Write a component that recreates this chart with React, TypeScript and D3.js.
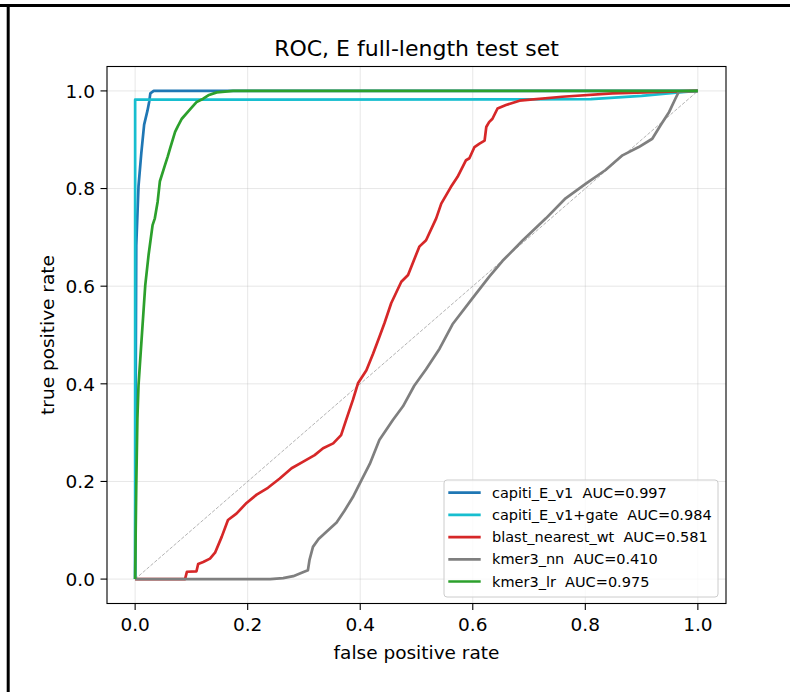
import React from "react";
import * as d3 from "d3";

type Pt = [number, number];

const title = "ROC, E full-length test set";
const xLabel = "false positive rate";
const yLabel = "true positive rate";
const xTicks = [0, 0.2, 0.4, 0.6, 0.8, 1.0];
const yTicks = [0, 0.2, 0.4, 0.6, 0.8, 1.0];

const seriesNames = [
  "capiti_E_v1  AUC=0.997",
  "capiti_E_v1+gate  AUC=0.984",
  "blast_nearest_wt  AUC=0.581",
  "kmer3_nn  AUC=0.410",
  "kmer3_lr  AUC=0.975",
];
const seriesColors = ["#1f77b4", "#17becf", "#d62728", "#7f7f7f", "#2ca02c"];

const capitiE: Pt[] = [
  [0, 0], [0.001, 0.4], [0.002, 0.684], [0.006, 0.805], [0.011, 0.873], [0.016, 0.931],
  [0.022, 0.96], [0.025, 0.978], [0.027, 0.995], [0.033, 1], [1, 1],
];
const capitiGate: Pt[] = [
  [0, 0], [0, 0.982], [0.81, 0.983], [0.9, 0.99], [0.966, 0.997], [1, 1],
];
const blast: Pt[] = [
  [0, 0], [0.0887, 0], [0.092, 0.015], [0.109, 0.016], [0.112, 0.031], [0.121, 0.035],
  [0.133, 0.042], [0.142, 0.054], [0.154, 0.087], [0.165, 0.121], [0.18, 0.134],
  [0.198, 0.156], [0.216, 0.173], [0.236, 0.187], [0.257, 0.206], [0.278, 0.227],
  [0.298, 0.24], [0.319, 0.254], [0.334, 0.268], [0.352, 0.278], [0.366, 0.295],
  [0.375, 0.326], [0.387, 0.367], [0.396, 0.401], [0.411, 0.428], [0.423, 0.462],
  [0.434, 0.496], [0.443, 0.524], [0.455, 0.565], [0.473, 0.609], [0.485, 0.623],
  [0.505, 0.681], [0.517, 0.694], [0.535, 0.739], [0.544, 0.769], [0.561, 0.803],
  [0.573, 0.824], [0.588, 0.858], [0.594, 0.862], [0.603, 0.885], [0.612, 0.892],
  [0.621, 0.898], [0.624, 0.926], [0.629, 0.936], [0.635, 0.943], [0.644, 0.964],
  [0.659, 0.971], [0.683, 0.98], [0.759, 0.988], [0.848, 0.995], [0.966, 0.999], [1, 1],
];
const kmerNN: Pt[] = [
  [0, 0], [0.24, 0], [0.263, 0.002], [0.281, 0.006], [0.296, 0.013], [0.307, 0.018],
  [0.31, 0.04], [0.316, 0.066], [0.326, 0.082], [0.34, 0.097], [0.358, 0.116],
  [0.372, 0.14], [0.387, 0.168], [0.402, 0.202], [0.417, 0.236], [0.434, 0.285],
  [0.44, 0.295], [0.458, 0.326], [0.476, 0.354], [0.496, 0.396], [0.517, 0.43],
  [0.541, 0.472], [0.564, 0.522], [0.6, 0.576], [0.629, 0.619], [0.653, 0.652],
  [0.689, 0.694], [0.73, 0.739], [0.765, 0.78], [0.801, 0.81], [0.836, 0.838],
  [0.866, 0.868], [0.895, 0.885], [0.919, 0.902], [0.934, 0.93], [0.949, 0.957],
  [0.96, 0.984], [0.966, 0.998], [1, 1],
];
const kmerLR: Pt[] = [
  [0, 0], [0.001, 0.1], [0.002, 0.192], [0.004, 0.329], [0.006, 0.397], [0.01, 0.466],
  [0.014, 0.534], [0.018, 0.602], [0.024, 0.665], [0.031, 0.725], [0.035, 0.739],
  [0.04, 0.773], [0.044, 0.815], [0.053, 0.848], [0.058, 0.866], [0.062, 0.882],
  [0.071, 0.916], [0.076, 0.928], [0.083, 0.943], [0.096, 0.96], [0.109, 0.977],
  [0.121, 0.984], [0.13, 0.991], [0.145, 0.997], [0.174, 1.0], [1, 1],
];
const allSeries = [capitiE, capitiGate, blast, kmerNN, kmerLR];
const diagonal: Pt[] = [[0, 0], [1, 1]];

const W = 790;
const H = 692;
const left = 107, right = 726, top = 66.5, bottom = 603.5;
const FONT = "DejaVu Sans, sans-serif";

export default function App() {
  const x = d3.scaleLinear().domain([-0.05, 1.05]).range([left, right]);
  const y = d3.scaleLinear().domain([-0.05, 1.05]).range([bottom, top]);
  const line = d3.line<Pt>().x((d) => x(d[0])).y((d) => y(d[1]));
  const fmt = d3.format(".1f");

  const legX = 444, legY = 480, legW = 274, legH = 117;
  const rowY0 = 492.7, rowStep = 22.2;

  return (
    <svg width={W} height={H} style={{ position: "absolute", left: 0, top: 0, background: "#fff" }}
      fontFamily={FONT}>
      <rect x={0} y={0} width={W} height={H} fill="#fff" />
      {/* outer frame pieces */}
      <line x1={0} x2={W} y1={5.5} y2={5.5} stroke="#000" strokeWidth={3} />
      <line x1={8.2} x2={8.2} y1={4} y2={H} stroke="#000" strokeWidth={3} />

      {/* grid */}
      {xTicks.map((t) => (
        <line key={"gx" + t} x1={x(t)} x2={x(t)} y1={top} y2={bottom} stroke="#b0b0b0" strokeOpacity={0.3} strokeWidth={1} />
      ))}
      {yTicks.map((t) => (
        <line key={"gy" + t} x1={left} x2={right} y1={y(t)} y2={y(t)} stroke="#b0b0b0" strokeOpacity={0.3} strokeWidth={1} />
      ))}

      {/* diagonal */}
      <path d={line(diagonal) || ""} fill="none" stroke="#aaa" strokeWidth={0.9} strokeDasharray="3.5,1.6" />

      {/* curves */}
      {allSeries.map((s, i) => (
        <path key={"s" + i} d={line(s) || ""} fill="none" stroke={seriesColors[i]} strokeWidth={2.7}
          strokeLinejoin="round" strokeLinecap="butt" />
      ))}

      {/* spines */}
      <rect x={left} y={top} width={right - left} height={bottom - top} fill="none" stroke="#000" strokeWidth={1.1} />

      {/* ticks */}
      {xTicks.map((t) => (
        <g key={"tx" + t}>
          <line x1={x(t)} x2={x(t)} y1={bottom} y2={bottom + 6.5} stroke="#000" strokeWidth={1.1} />
          <text x={x(t)} y={631} textAnchor="middle" fontSize={18.5} fill="#000">{fmt(t)}</text>
        </g>
      ))}
      {yTicks.map((t) => (
        <g key={"ty" + t}>
          <line x1={left - 6.5} x2={left} y1={y(t)} y2={y(t)} stroke="#000" strokeWidth={1.1} />
          <text x={95} y={y(t) + 6.7} textAnchor="end" fontSize={18.5} fill="#000">{fmt(t)}</text>
        </g>
      ))}

      {/* labels */}
      <text x={(left + right) / 2} y={659} textAnchor="middle" fontSize={18.5} fill="#000">{xLabel}</text>
      <text transform={`translate(54, ${(top + bottom) / 2}) rotate(-90)`} textAnchor="middle" fontSize={18.5} fill="#000">{yLabel}</text>
      <text x={(left + right) / 2} y={56} textAnchor="middle" fontSize={22} fill="#000">{title}</text>

      {/* legend */}
      <rect x={legX} y={legY} width={legW} height={legH} rx={3} ry={3} fill="#fff" fillOpacity={0.8} stroke="#cccccc" strokeWidth={1} />
      {seriesNames.map((n, i) => (
        <g key={"l" + i}>
          <line x1={448.3} x2={480.7} y1={rowY0 + i * rowStep} y2={rowY0 + i * rowStep} stroke={seriesColors[i]} strokeWidth={2.7} />
          <text x={492} y={rowY0 + i * rowStep + 5} fontSize={14.5} fill="#000" style={{ whiteSpace: "pre" }} xmlSpace="preserve">{n}</text>
        </g>
      ))}
    </svg>
  );
}
